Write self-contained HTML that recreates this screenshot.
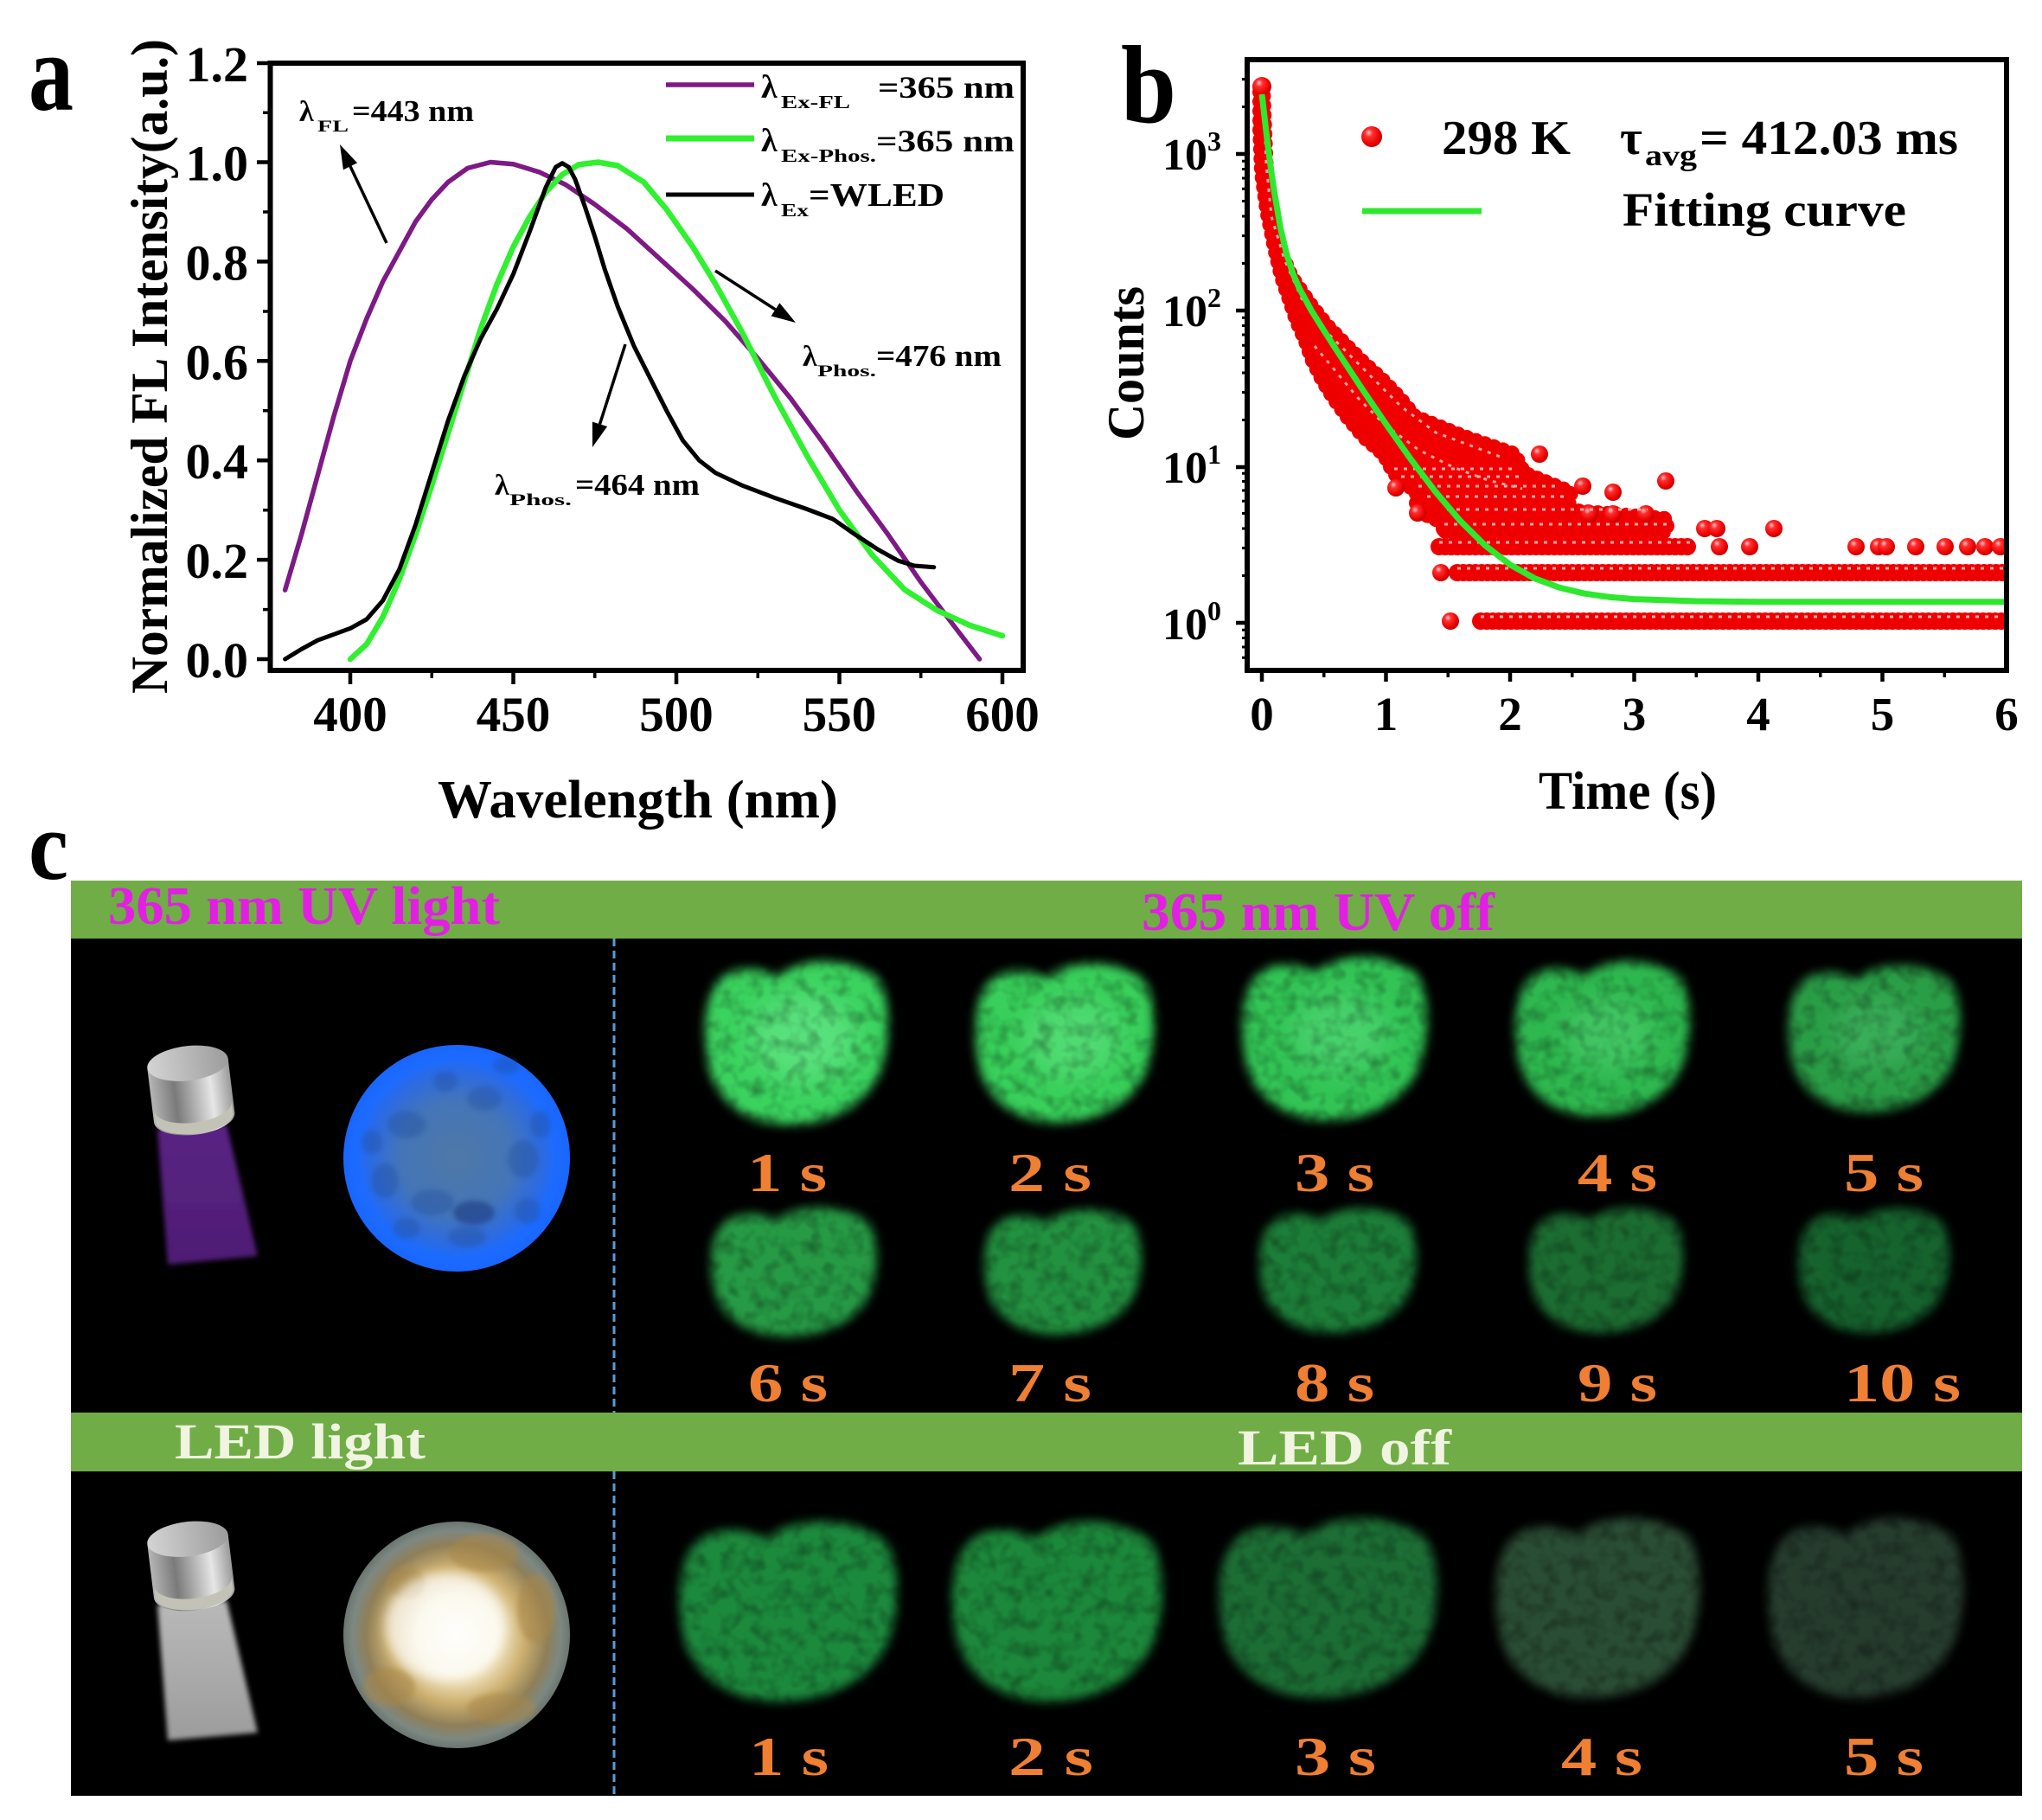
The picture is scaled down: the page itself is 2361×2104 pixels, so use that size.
<!DOCTYPE html>
<html>
<head>
<meta charset="utf-8">
<style>
html,body{margin:0;padding:0;background:#fff;}
svg{display:block;}
svg text{font-family:"Liberation Serif","Times New Roman",serif;font-weight:bold;}
</style>
</head>
<body>
<svg width="2361" height="2104" viewBox="0 0 2361 2104" xmlns="http://www.w3.org/2000/svg">
<defs>
  <radialGradient id="rs" cx="0.4" cy="0.38" r="0.62" fx="0.35" fy="0.3">
    <stop offset="0" stop-color="#ffc8c8"/><stop offset="0.3" stop-color="#ff3030"/>
    <stop offset="0.8" stop-color="#ea0000"/><stop offset="1" stop-color="#c40000"/>
  </radialGradient>
  <clipPath id="clipB"><rect x="1445" y="72" width="872" height="700"/></clipPath>
  <filter id="blur3" x="-20%" y="-20%" width="140%" height="140%"><feGaussianBlur stdDeviation="3"/></filter>
  <filter id="blur2" x="-30%" y="-30%" width="160%" height="160%"><feGaussianBlur stdDeviation="3"/></filter>
  <filter id="blur6" x="-25%" y="-25%" width="150%" height="150%"><feGaussianBlur stdDeviation="6"/></filter>
  <filter id="blur12" x="-40%" y="-40%" width="180%" height="180%"><feGaussianBlur stdDeviation="14"/></filter>
  <filter id="grain" x="0" y="0" width="1" height="1">
    <feTurbulence type="fractalNoise" baseFrequency="0.06" numOctaves="2" seed="7"/>
    <feColorMatrix type="matrix" values="0 0 0 0 0  0 0 0 0 0  0 0 0 0 0  -1.8 0 0 0 1.05"/>
  </filter>
  <linearGradient id="metal" x1="0" y1="0" x2="1" y2="0">
    <stop offset="0" stop-color="#b5b5b5"/><stop offset="0.3" stop-color="#7a7a7a"/>
    <stop offset="0.75" stop-color="#e6e6e6"/><stop offset="1" stop-color="#9a9a9a"/>
  </linearGradient>
  <linearGradient id="mtop" x1="0" y1="0" x2="1" y2="0">
    <stop offset="0" stop-color="#d4d4d4"/><stop offset="1" stop-color="#9c9c9c"/>
  </linearGradient>
  <linearGradient id="beamuv" x1="0" y1="0" x2="0" y2="1">
    <stop offset="0" stop-color="#5a2384"/><stop offset="1" stop-color="#4e1d74"/>
  </linearGradient>
  <linearGradient id="beamgray" x1="0" y1="0" x2="0" y2="1">
    <stop offset="0" stop-color="#b9b9b9"/><stop offset="1" stop-color="#9c9c9c"/>
  </linearGradient>
  <radialGradient id="blueg" cx="0.5" cy="0.5" r="0.5">
    <stop offset="0" stop-color="#4f78a6"/><stop offset="0.5" stop-color="#4475b8"/>
    <stop offset="0.75" stop-color="#2d6be0"/><stop offset="0.88" stop-color="#1c6bff"/>
    <stop offset="1" stop-color="#1a66ff"/>
  </radialGradient>
  <radialGradient id="ledg" cx="0.5" cy="0.5" r="0.5">
    <stop offset="0" stop-color="#fffef6"/><stop offset="0.35" stop-color="#f6eed0"/>
    <stop offset="0.6" stop-color="#cdb070"/><stop offset="0.8" stop-color="#8f7f58"/>
    <stop offset="0.92" stop-color="#7d8882"/><stop offset="1" stop-color="#6c7671"/>
  </radialGradient>
  <path id="blob" d="M-95,-60 C-80,-92 -42,-88 -20,-76 C8,-100 62,-100 96,-74 C112,-48 110,0 100,30 C86,70 45,96 -10,95 C-60,95 -96,62 -101,20 C-106,-12 -104,-42 -95,-60Z"/>
  <g id="head" transform="rotate(-7 221 1262)">
    <path d="M174,1229 V1292 A47,20 0 0 0 268,1292 V1229 Z" fill="url(#metal)"/>
    <path d="M176,1279 V1292 A45,19 0 0 0 266,1292 V1279 A45,19 0 0 1 176,1279Z" fill="#c2c2b6"/>
    <ellipse cx="221" cy="1229" rx="47" ry="20" fill="url(#mtop)"/>
  </g>
</defs>

<rect x="0" y="0" width="2361" height="2104" fill="#fff"/>

<!-- ================= PANEL A ================= -->
<text x="33" y="127" font-size="128" textLength="52" lengthAdjust="spacingAndGlyphs">a</text>

<g fill="none" stroke-linejoin="round" stroke-linecap="round">
  <polyline stroke="#7d1a85" stroke-width="5.5" points="329.6,682.1 348.45,618.4 367.3,549.4 386.15,480.5 405,417.3 423.85,368.5 442.7,325.4 461.55,290.9 480.4,256.4 499.25,230.6 518.1,210.5 540.7,194.4 567.1,187.5 593.5,189.8 623.7,199 653.8,213.4 687.8,236.3 725.5,265.1 763.2,299.5 800.9,334 838.6,371.3 876.3,414.4 914,460.4 951.7,512.1 989.4,566.7 1027.1,618.4 1064.8,673 1102.5,722.9 1132.6,762"/>
  <polyline stroke="#30f030" stroke-width="6.5" points="405,762 423.85,744.8 442.7,713.2 461.55,670.1 480.4,618.4 499.25,560.9 518.1,500.6 536.95,440.3 555.8,379.9 574.65,328.3 593.5,285.2 612.35,250.7 631.2,222 650.05,201.9 668.9,190.4 691.5,187.5 714.1,191.5 744.3,210.5 770.7,242.1 800.9,285.2 827.2,328.3 857.4,382.8 895.1,457.5 932.8,526.4 970.5,589.7 1008.2,641.4 1045.9,681.6 1083.6,705.7 1121.3,722.9 1159,735"/>
  <polyline stroke="#000" stroke-width="5" points="329.6,762 348.45,750.5 367.3,740.2 386.15,733.3 405,726.4 423.85,716 442.7,694.2 461.55,658.6 480.4,606.9 499.25,546.6 518.1,486.2 536.95,434.5 555.8,391.4 574.65,357 593.5,316.8 612.35,267.9 631.2,216.2 642.5,193.2 650.05,188.7 657.6,193.2 665.1,207.6 676.4,239.2 687.8,273.7 699.1,311 714.1,354.1 733,400.1 751.8,437.4 770.7,474.8 789.5,509.2 808.4,532.2 827.2,546.6 857.4,560.9 895.1,575.3 932.8,588.5 963,600 989.4,618.4 1015.7,635.6 1038.4,648.2 1057.2,654 1079.8,655.7"/>
</g>

<rect x="312.5" y="73" width="870.5" height="702" fill="none" stroke="#000" stroke-width="6"/>
<path d="M297,73H312 M297,187.5H312 M297,302.4H312 M297,417.3H312 M297,532.2H312 M297,647.1H312 M297,762H312" stroke="#000" stroke-width="4.5"/>
<path d="M304,130.2H312 M304,245H312 M304,360H312 M304,474.8H312 M304,589.7H312 M304,704.6H312" stroke="#000" stroke-width="3.5"/>
<path d="M405,775V791 M593.5,775V791 M782,775V791 M970.5,775V791 M1159,775V791" stroke="#000" stroke-width="4.5"/>
<path d="M499.25,775V784 M687.75,775V784 M876.25,775V784 M1064.75,775V784" stroke="#000" stroke-width="3.5"/>

<g font-size="58" text-anchor="end">
  <text x="287" y="94">1.2</text>
  <text x="287" y="208.5">1.0</text>
  <text x="287" y="323.4">0.8</text>
  <text x="287" y="438.3">0.6</text>
  <text x="287" y="553.2">0.4</text>
  <text x="287" y="668.1">0.2</text>
  <text x="287" y="783">0.0</text>
</g>
<g font-size="57" text-anchor="middle">
  <text x="405" y="845">400</text>
  <text x="593.5" y="845">450</text>
  <text x="782" y="845">500</text>
  <text x="970.5" y="845">550</text>
  <text x="1159" y="845">600</text>
</g>
<text x="737.5" y="945" font-size="62" text-anchor="middle" textLength="463" lengthAdjust="spacingAndGlyphs">Wavelength (nm)</text>
<text transform="translate(193,423.5) rotate(-90)" font-size="60" text-anchor="middle" textLength="757" lengthAdjust="spacingAndGlyphs">Normalized FL Intensity(a.u.)</text>

<line x1="770" y1="98" x2="872" y2="98" stroke="#7d1a85" stroke-width="5.5"/>
<line x1="770" y1="160" x2="872" y2="160" stroke="#30f030" stroke-width="7"/>
<line x1="770" y1="225" x2="872" y2="225" stroke="#000" stroke-width="5"/>
<text x="880" y="113" font-size="38">λ</text>
<text x="903" y="125" font-size="21" textLength="80" lengthAdjust="spacingAndGlyphs">Ex-FL</text>
<text x="1015" y="113" font-size="36" textLength="158" lengthAdjust="spacingAndGlyphs">=365 nm</text>
<text x="880" y="175" font-size="38">λ</text>
<text x="903" y="187" font-size="21" textLength="110" lengthAdjust="spacingAndGlyphs">Ex-Phos.</text>
<text x="1013" y="175" font-size="36" textLength="160" lengthAdjust="spacingAndGlyphs">=365 nm</text>
<text x="880" y="238" font-size="38">λ</text>
<text x="903" y="250" font-size="21" textLength="32" lengthAdjust="spacingAndGlyphs">Ex</text>
<text x="935" y="238" font-size="38" textLength="157" lengthAdjust="spacingAndGlyphs">=WLED</text>

<text x="346" y="140" font-size="34">λ</text>
<text x="367" y="152" font-size="19" textLength="36" lengthAdjust="spacingAndGlyphs">FL</text>
<text x="407" y="140" font-size="35" textLength="141" lengthAdjust="spacingAndGlyphs">=443 nm</text>
<text x="928" y="423" font-size="34">λ</text>
<text x="945" y="435" font-size="19" textLength="68" lengthAdjust="spacingAndGlyphs">Phos.</text>
<text x="1013" y="423" font-size="35" textLength="145" lengthAdjust="spacingAndGlyphs">=476 nm</text>
<text x="572" y="572" font-size="34">λ</text>
<text x="589" y="584" font-size="19" textLength="72" lengthAdjust="spacingAndGlyphs">Phos.</text>
<text x="665" y="572" font-size="35" textLength="144" lengthAdjust="spacingAndGlyphs">=464 nm</text>

<g stroke="#000" stroke-width="3.5">
  <line x1="447" y1="281" x2="405" y2="192.3"/>
  <line x1="827" y1="313" x2="896.5" y2="357.8"/>
  <line x1="723" y1="398" x2="693.5" y2="490.3"/>
</g>
<polygon points="393,167 413.1,188.4 396.9,196.2" fill="#000"/>
<polygon points="920,373 891.6,365.4 901.4,350.2" fill="#000"/>
<polygon points="685,517 702.1,493 684.9,487.6" fill="#000"/>

<!-- ================= PANEL B ================= -->
<text x="1296" y="141" font-size="128" textLength="64" lengthAdjust="spacingAndGlyphs">b</text>

<g clip-path="url(#clipB)">
  <polygon fill="#f00000" points="1460,100 1462,150 1464,200 1467,243 1479,287 1493,320 1515,352 1533,375 1552,395 1575,418 1598,439 1618,460 1636,482 1693,505 1751,525 1762,547 1816,569 1812,590 1927,600 1927,615 1671,615 1673,606 1638,590 1638,569 1612,547 1600,525 1577,505 1558,482 1542,460 1529,439 1517,415 1510,395 1499,370 1493,352 1482,320 1474,287 1465,243 1459,200 1457,150 1457,100"/>
  <polygon fill="none" stroke="#ee0000" stroke-width="18" stroke-linecap="round" stroke-linejoin="round" stroke-dasharray="0 11" points="1460,100 1462,150 1464,200 1467,243 1479,287 1493,320 1515,352 1533,375 1552,395 1575,418 1598,439 1618,460 1636,482 1693,505 1751,525 1762,547 1816,569 1812,590 1927,600 1927,615 1671,615 1673,606 1638,590 1638,569 1612,547 1600,525 1577,505 1558,482 1542,460 1529,439 1517,415 1510,395 1499,370 1493,352 1482,320 1474,287 1465,243 1459,200 1457,150 1457,100"/>
  <path d="M1712,718H2318 M1685,662H2318 M1664,632H1957 M1670,611H1928" fill="none" stroke="#ee0000" stroke-width="20" stroke-linecap="round" stroke-dasharray="0 7"/>
  <g fill="url(#rs)">
    <circle cx="1459" cy="100" r="11"/>
    <circle cx="1677" cy="718" r="10"/><circle cx="1666" cy="662" r="10"/>
    <circle cx="1926" cy="556" r="10"/><circle cx="1971" cy="611" r="10"/><circle cx="1985" cy="611" r="10"/>
    <circle cx="2051" cy="611" r="10"/><circle cx="1988" cy="632" r="10"/><circle cx="2023" cy="632" r="10"/>
    <circle cx="2146" cy="632" r="10"/><circle cx="2172" cy="632" r="10"/><circle cx="2181" cy="632" r="10"/>
    <circle cx="2215" cy="632" r="10"/><circle cx="2249" cy="632" r="10"/><circle cx="2275" cy="632" r="10"/>
    <circle cx="2295" cy="632" r="10"/><circle cx="2313" cy="632" r="10"/>
    <circle cx="1614" cy="564" r="10"/><circle cx="1639" cy="593" r="10"/>
    <circle cx="1838" cy="594" r="10"/><circle cx="1865" cy="594" r="10"/><circle cx="1903" cy="594" r="10"/>
    <circle cx="1865" cy="569" r="10"/><circle cx="1780" cy="525" r="10"/><circle cx="1830" cy="562" r="10"/>
  </g>
  <g fill="none" stroke="#ffa8a8" stroke-width="3" stroke-dasharray="4 7">
    <path d="M1712,713H2318 M1685,657H2318 M1664,627H1957 M1670,606H1928 M1673,589H1905 M1650,574H1812 M1640,562H1800 M1620,551H1760 M1612,542H1755"/>
    <polyline points="1462,130 1464,190 1470,250 1485,300 1505,345 1530,380 1560,410 1590,440 1620,470 1660,500 1700,515 1740,530"/>
    <polyline points="1520,400 1545,430 1570,460 1600,490 1640,520 1680,540 1720,555 1760,565"/>
  </g>
  <polyline fill="none" stroke="#2ee82e" stroke-width="7" stroke-linejoin="round" points="1459,109 1461.9,134 1464.7,158.1 1467.6,180.9 1470.5,202.3 1473.4,222.1 1480.5,263.5 1487.7,294.1 1494.9,316.2 1502.1,332.9 1516.4,359.2 1530.8,382.2 1545.1,404.4 1559.5,426.2 1573.8,447.9 1588.2,469.2 1602.5,490.2 1631.2,530.9 1659.9,568.7 1688.6,602.4 1717.3,630.7 1746,652.8 1774.7,668.8 1803.4,679.4 1832.1,686.2 1860.8,690.2 1889.5,692.6 1961.3,695 2033,695.8 2318,695.8"/>
</g>

<rect x="1442" y="69" width="878" height="706" fill="none" stroke="#000" stroke-width="6"/>
<path d="M1459,775V788 M1602.5,775V788 M1746,775V788 M1889.5,775V788 M2033,775V788 M2176.5,775V788" stroke="#000" stroke-width="4.5"/>
<path d="M1530.75,775V783 M1674.25,775V783 M1817.75,775V783 M1961.25,775V783 M2104.75,775V783 M2248.25,775V783" stroke="#000" stroke-width="3.5"/>
<path d="M1429,178H1442 M1429,359H1442 M1429,540H1442 M1429,720H1442" stroke="#000" stroke-width="4.5"/>
<path d="M1436,665.5H1442 M1436,633.6H1442 M1436,611H1442 M1436,593.5H1442 M1436,579.2H1442 M1436,567H1442 M1436,556.5H1442 M1436,547.3H1442 M1436,485.5H1442 M1436,453.6H1442 M1436,431H1442 M1436,413.5H1442 M1436,399.2H1442 M1436,387H1442 M1436,376.5H1442 M1436,367.3H1442 M1436,304.5H1442 M1436,272.6H1442 M1436,250H1442 M1436,232.5H1442 M1436,218.2H1442 M1436,206H1442 M1436,195.5H1442 M1436,186.3H1442 M1436,123.5H1442 M1436,91.6H1442 M1436,728.3H1442 M1436,737.5H1442 M1436,748H1442 M1436,760.2H1442" stroke="#000" stroke-width="3"/>

<g font-size="55" text-anchor="middle">
  <text x="1459" y="844">0</text>
  <text x="1602.5" y="844">1</text>
  <text x="1746" y="844">2</text>
  <text x="1889.5" y="844">3</text>
  <text x="2033" y="844">4</text>
  <text x="2176.5" y="844">5</text>
  <text x="2320" y="844">6</text>
</g>
<g font-size="52">
  <text x="1344" y="196">10</text><text x="1396" y="174" font-size="32">3</text>
  <text x="1344" y="377">10</text><text x="1396" y="355" font-size="32">2</text>
  <text x="1344" y="558">10</text><text x="1396" y="536" font-size="32">1</text>
  <text x="1344" y="739">10</text><text x="1396" y="717" font-size="32">0</text>
</g>
<text transform="translate(1322,420) rotate(-90)" font-size="60" text-anchor="middle" textLength="178" lengthAdjust="spacingAndGlyphs">Counts</text>
<text x="1882" y="935" font-size="62" text-anchor="middle" textLength="206" lengthAdjust="spacingAndGlyphs">Time (s)</text>

<circle cx="1586" cy="158" r="12" fill="url(#rs)"/>
<text x="1667" y="178" font-size="56" textLength="149" lengthAdjust="spacingAndGlyphs">298 K</text>
<text x="1873" y="178" font-size="56">τ</text>
<text x="1902" y="191" font-size="34" textLength="60" lengthAdjust="spacingAndGlyphs">avg</text>
<text x="1965" y="178" font-size="56" textLength="299" lengthAdjust="spacingAndGlyphs">= 412.03 ms</text>
<line x1="1575" y1="244" x2="1713" y2="244" stroke="#2ee82e" stroke-width="7"/>
<text x="1876" y="261" font-size="55" textLength="328" lengthAdjust="spacingAndGlyphs">Fitting curve</text>

<!-- ================= PANEL C ================= -->
<text x="33" y="1016" font-size="113" textLength="46" lengthAdjust="spacingAndGlyphs">c</text>

<rect x="82" y="1018" width="2256" height="67" fill="#70ad47"/>
<rect x="82" y="1085" width="2256" height="548" fill="#000"/>
<rect x="82" y="1633" width="2256" height="68" fill="#70ad47"/>
<rect x="82" y="1701" width="2256" height="375" fill="#000"/>
<path d="M710,1085V1633 M710,1701V2076" stroke="#5b9bd5" stroke-width="3" stroke-dasharray="9 5"/>

<text x="125" y="1068" font-size="62" fill="#e21fe2" textLength="453" lengthAdjust="spacingAndGlyphs">365 nm UV light</text>
<text x="1320" y="1075" font-size="62" fill="#e21fe2" textLength="408" lengthAdjust="spacingAndGlyphs">365 nm UV off</text>
<text x="202" y="1686" font-size="58" fill="#f0f4e0" textLength="290" lengthAdjust="spacingAndGlyphs">LED  light</text>
<text x="1431" y="1693" font-size="58" fill="#f0f4e0" textLength="247" lengthAdjust="spacingAndGlyphs">LED  off</text>

<polygon points="182,1305 262,1300 298,1452 194,1462" fill="url(#beamuv)" filter="url(#blur3)"/>
<use href="#head"/>
<polygon points="182,1855 262,1850 298,2003 194,2012" fill="url(#beamgray)" filter="url(#blur3)"/>
<use href="#head" transform="translate(0,550)"/>

<circle cx="528" cy="1339" r="131" fill="url(#blueg)"/>
<g fill="#234f9e" opacity="0.4" filter="url(#blur2)">
  <ellipse cx="470" cy="1300" rx="22" ry="16"/><ellipse cx="500" cy="1390" rx="25" ry="15"/>
  <ellipse cx="560" cy="1270" rx="20" ry="14"/><ellipse cx="605" cy="1340" rx="18" ry="22"/>
  <ellipse cx="445" cy="1365" rx="16" ry="20"/><ellipse cx="610" cy="1400" rx="15" ry="15"/>
  <ellipse cx="515" cy="1250" rx="14" ry="12"/><ellipse cx="585" cy="1232" rx="15" ry="10"/>
  <ellipse cx="430" cy="1320" rx="12" ry="14"/><ellipse cx="470" cy="1420" rx="16" ry="12"/>
  <ellipse cx="625" cy="1300" rx="12" ry="16"/><ellipse cx="540" cy="1430" rx="22" ry="12"/>
</g>
<ellipse cx="548" cy="1402" rx="24" ry="14" fill="#1a3a80" opacity="0.6" filter="url(#blur2)"/>

<circle cx="528" cy="1890" r="131" fill="url(#ledg)"/>
<g fill="#a8874a" opacity="0.55" filter="url(#blur3)">
  <ellipse cx="560" cy="1795" rx="40" ry="22"/><ellipse cx="620" cy="1860" rx="22" ry="40"/>
  <ellipse cx="450" cy="1950" rx="30" ry="22"/><ellipse cx="580" cy="1975" rx="40" ry="18"/>
  <ellipse cx="470" cy="1830" rx="22" ry="18"/>
</g>
<ellipse cx="515" cy="1880" rx="70" ry="62" fill="#ffffff" opacity="0.65" filter="url(#blur6)"/>

<g filter="url(#blur6)">
  <use href="#blob" transform="translate(919,1205)" fill="#3bd35e"/>
  <use href="#blob" transform="translate(1229,1205) scale(0.976,0.974)" fill="#38cf5a"/>
  <use href="#blob" transform="translate(1541,1200) scale(1.01,1)" fill="#33c454"/>
  <use href="#blob" transform="translate(1851,1200) scale(0.952,0.947)" fill="#2fb84f"/>
  <use href="#blob" transform="translate(2165,1200) scale(0.938,0.895)" fill="#2a9e47"/>
  <use href="#blob" transform="translate(916,1470) scale(0.905,0.79)" fill="#279a45"/>
  <use href="#blob" transform="translate(1227,1470) scale(0.857,0.763)" fill="#23913f"/>
  <use href="#blob" transform="translate(1545,1468) scale(0.857,0.763)" fill="#1d7e37"/>
  <use href="#blob" transform="translate(1855,1468) scale(0.843,0.763)" fill="#1a6d31"/>
  <use href="#blob" transform="translate(2165,1468) scale(0.824,0.763)" fill="#18632d"/>
  <use href="#blob" transform="translate(909,1862) scale(1.19,1.1)" fill="#1e8a3c"/>
  <use href="#blob" transform="translate(1220,1862) scale(1.148,1.1)" fill="#1e883b"/>
  <use href="#blob" transform="translate(1533,1858) scale(1.19,1.1)" fill="#1c6e35"/>
  <use href="#blob" transform="translate(1845,1858) scale(1.114,1.1)" fill="#2a4d35"/>
  <use href="#blob" transform="translate(2155,1858) scale(1.067,1.1)" fill="#283d2f"/>
</g>
<g fill="#7cf0a0" filter="url(#blur12)">
  <ellipse cx="930" cy="1200" rx="60" ry="50" opacity="0.45"/>
  <ellipse cx="1240" cy="1200" rx="55" ry="45" opacity="0.35"/>
  <ellipse cx="1550" cy="1195" rx="55" ry="45" opacity="0.3"/>
  <ellipse cx="1860" cy="1195" rx="50" ry="40" opacity="0.25"/>
  <ellipse cx="2170" cy="1195" rx="50" ry="40" opacity="0.2"/>
</g>
<g opacity="0.35">
  <rect x="770" y="1090" width="1530" height="225" filter="url(#grain)"/>
  <rect x="770" y="1385" width="1530" height="165" filter="url(#grain)"/>
  <rect x="760" y="1740" width="1540" height="235" filter="url(#grain)"/>
</g>

<g font-size="64" fill="#ee7f33">
  <text x="864" y="1377" textLength="92" lengthAdjust="spacingAndGlyphs">1 s</text>
  <text x="1166" y="1377" textLength="96" lengthAdjust="spacingAndGlyphs">2 s</text>
  <text x="1497" y="1377" textLength="92" lengthAdjust="spacingAndGlyphs">3 s</text>
  <text x="1824" y="1377" textLength="92" lengthAdjust="spacingAndGlyphs">4 s</text>
  <text x="2132" y="1377" textLength="92" lengthAdjust="spacingAndGlyphs">5 s</text>
  <text x="865" y="1620" textLength="92" lengthAdjust="spacingAndGlyphs">6 s</text>
  <text x="1166" y="1620" textLength="96" lengthAdjust="spacingAndGlyphs">7 s</text>
  <text x="1497" y="1620" textLength="92" lengthAdjust="spacingAndGlyphs">8 s</text>
  <text x="1824" y="1620" textLength="92" lengthAdjust="spacingAndGlyphs">9 s</text>
  <text x="2132" y="1620" textLength="135" lengthAdjust="spacingAndGlyphs">10 s</text>
  <text x="866" y="2052" textLength="92" lengthAdjust="spacingAndGlyphs">1 s</text>
  <text x="1166" y="2052" textLength="98" lengthAdjust="spacingAndGlyphs">2 s</text>
  <text x="1497" y="2052" textLength="94" lengthAdjust="spacingAndGlyphs">3 s</text>
  <text x="1805" y="2052" textLength="94" lengthAdjust="spacingAndGlyphs">4 s</text>
  <text x="2132" y="2052" textLength="92" lengthAdjust="spacingAndGlyphs">5 s</text>
</g>
</svg>
</body>
</html>
